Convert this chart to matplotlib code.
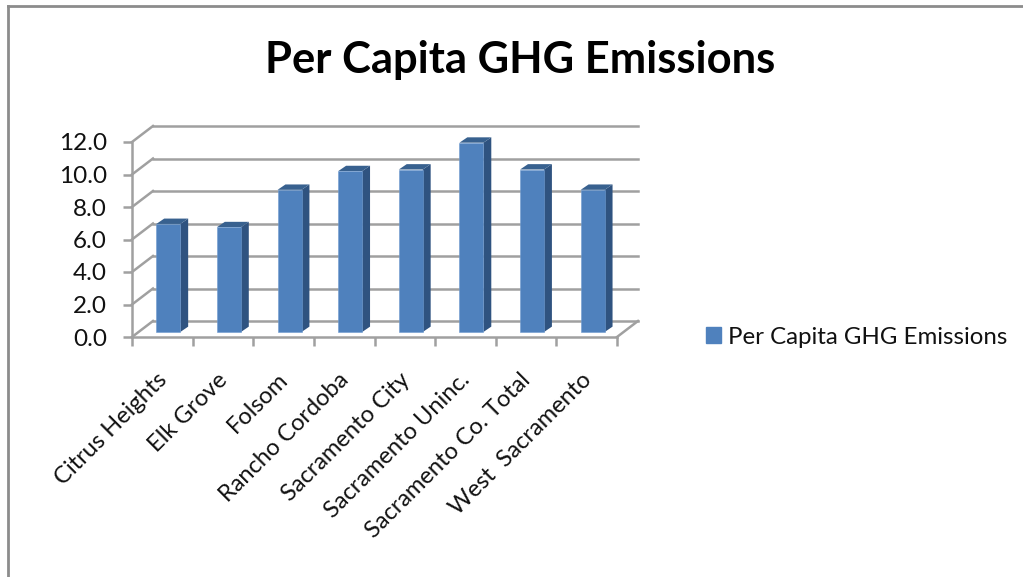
import matplotlib
matplotlib.use("Agg")
import matplotlib.pyplot as plt
from matplotlib.lines import Line2D
from matplotlib.transforms import Affine2D

categories = ["Citrus Heights", "Elk Grove", "Folsom", "Rancho Cordoba",
              "Sacramento City", "Sacramento Uninc.", "Sacramento Co. Total",
              "West  Sacramento"]
values = [6.65, 6.45, 8.75, 9.9, 10.0, 11.65, 10.0, 8.75]
y_ticks = [0, 2, 4, 6, 8, 10, 12]
series_name = "Per Capita GHG Emissions"

W, H = 1023, 577
BLUE = "#4F81BD"
SIDE = "#2F5380"
TOP = "#38618F"
GRID = "#A0A0A0"
TEXT = "#111111"
FONT = "Lato"

fig = plt.figure(figsize=(W / 100, H / 100), dpi=100)
fig.patch.set_facecolor("white")

# front edge of the fake 3d box, in pixels from the top left
L, R, Y0, Y12 = 132, 617, 337, 142
ax = fig.add_axes([L / W, 1 - Y0 / H, (R - L) / W, (Y0 - Y12) / H])
ax.set_xlim(0, 8)
ax.set_ylim(0, 12)
ax.patch.set_alpha(0)
for s in ["top", "right"]:
    ax.spines[s].set_visible(False)
for s in ["left", "bottom"]:
    ax.spines[s].set_color(GRID)
    ax.spines[s].set_linewidth(1.8)

# back wall is the front shifted up and right (display px)
back = ax.transData + Affine2D().translate(21, 16)
base = ax.transData + Affine2D().translate(6, 5)
for t in y_ticks:
    ax.plot([0, 8], [t, t], color=GRID, lw=1.8, transform=back, clip_on=False, zorder=1)
    ax.plot([0, 0.346], [t, t + 0.985], color=GRID, lw=1.8, clip_on=False, zorder=1)
ax.plot([8, 8.346], [0, 0.985], color=GRID, lw=1.8, clip_on=False, zorder=1)

# bars
bar_w = 0.395
xs = [i + 0.5 for i in range(len(values))]
ax.bar(xs, values, width=bar_w, color=BLUE, edgecolor="#6F9BD0", linewidth=0.4,
       transform=base, zorder=4, clip_on=False)
dx, dy = 0.13, 0.33  # depth of a bar in data units
for x, v in zip(xs, values):
    x0, x1 = x - bar_w / 2, x + bar_w / 2
    ax.fill([x1, x1 + dx, x1 + dx, x1], [0, dy, v + dy, v], color=SIDE, lw=0,
            transform=base, zorder=3, clip_on=False)
    ax.fill([x0, x0 + dx, x1 + dx, x1], [v, v + dy, v + dy, v], color=TOP, lw=0,
            transform=base, zorder=3, clip_on=False)

ax.set_yticks(y_ticks)
ax.set_yticklabels([f"{t:.1f}" for t in y_ticks], fontsize=17.5, color=TEXT, family=FONT)
ax.set_xticks(range(len(values) + 1))
ax.set_xticklabels([""] * (len(values) + 1))
ax.tick_params(axis="y", length=6.5, width=1.8, color=GRID, pad=11.5)
ax.tick_params(axis="x", length=6.5, width=1.8, color=GRID)
for x, c in zip(xs, categories):
    ax.annotate(c, (x, 0), xytext=(-6, -32), textcoords="offset pixels", rotation=45,
                ha="right", va="top", rotation_mode="anchor", fontsize=17,
                color=TEXT, family=FONT, annotation_clip=False)

fig.text(520.5 / W, 1 - 60 / H, series_name, ha="center", va="center", fontsize=31.3,
         fontweight="bold", family=FONT, color="black")

handle = plt.Rectangle((0, 0), 1, 1, color=BLUE)
fig.legend([handle], [series_name], loc="center left", bbox_to_anchor=(706 / W, 1 - 337 / H),
           frameon=False, handlelength=0.62, handleheight=0.62, handletextpad=0.3,
           borderpad=0, borderaxespad=0,
           prop={"family": FONT, "size": 17.3}, labelcolor=TEXT)

# chart border
for xd, yd in [([7.5, 7.5], [H, 6]), ([7.5, W], [6, 6])]:
    fig.add_artist(Line2D([a / W for a in xd], [1 - b / H for b in yd], color="#8C8C8C", lw=2))

fig.savefig("out.png", dpi=100)
